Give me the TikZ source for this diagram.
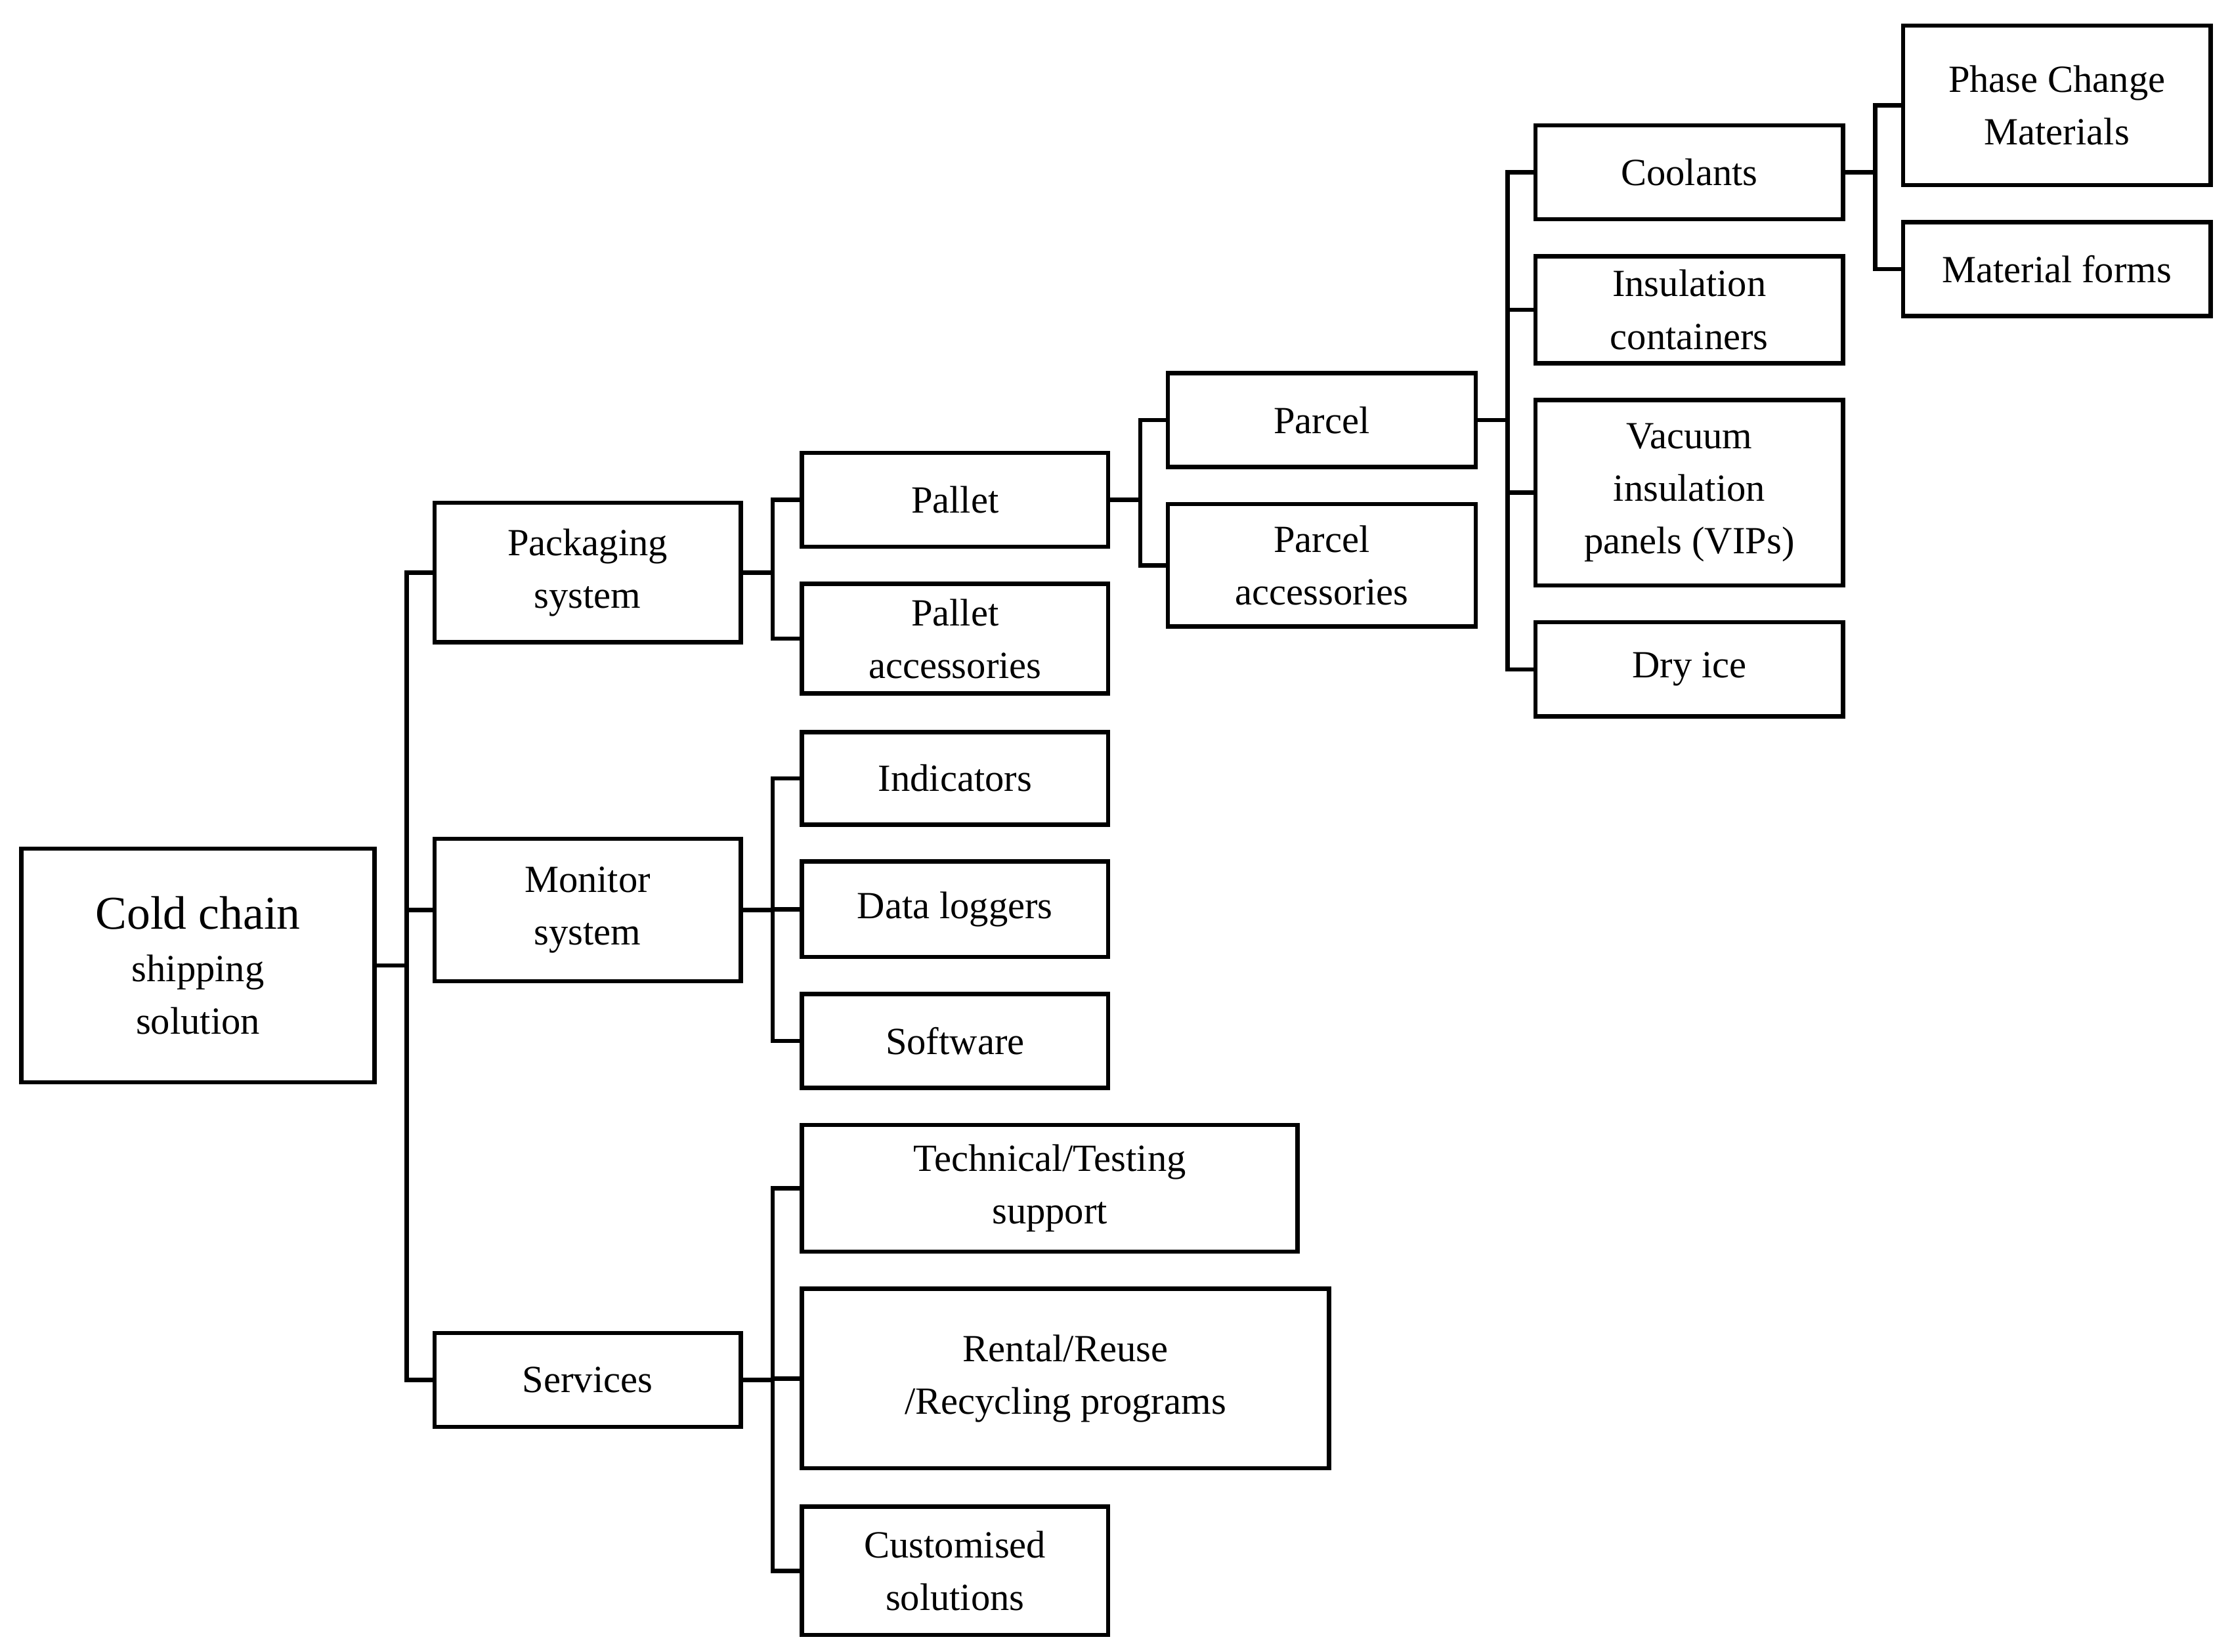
\documentclass[tikz,border=0pt]{standalone}
\usepackage{fontspec}
\setmainfont{Liberation Serif}
\begin{document}
\begin{tikzpicture}[x=1pt,y=-1pt,line width=3pt,
  bx/.style={draw,align=center,inner sep=0pt,font=\fontsize{27}{37}\selectfont}]
\useasboundingbox (0,0) rectangle (1567,1160);
\newcommand{\bx}[6]{\node[bx,minimum width={#4-#2},minimum height={#5-#3}] (#1) at ({(#2+#4)/2},{(#3+#5)/2}) {#6};}
\bx{root}{15}{596}{263}{760}{\fontsize{33}{42}\selectfont Cold chain\\ shipping\\ solution}
\bx{pack}{305}{353}{520}{451}{Packaging\\ system}
\bx{mon}{305}{589}{520}{689}{Monitor\\ system}
\bx{serv}{305}{936}{520}{1002}{Services}
\bx{pal}{563}{318}{778}{384}{Pallet}
\bx{palacc}{563}{410}{778}{487}{Pallet\\ accessories}
\bx{ind}{563}{514}{778}{579}{Indicators}
\bx{data}{563}{605}{778}{672}{Data loggers}
\bx{soft}{563}{698}{778}{764}{Software}
\bx{tech}{563}{790}{911}{879}{Technical/Testing\\ support}
\bx{rent}{563}{905}{933}{1031}{\fontsize{27}{52}\selectfont Rental/Reuse\\ /Recycling programs}
\bx{cust}{563}{1058}{778}{1148}{Customised\\ solutions}
\bx{parc}{820}{262}{1036}{328}{Parcel}
\bx{parcacc}{820}{354}{1036}{440}{Parcel\\ accessories}
\bx{cool}{1078}{88}{1294}{154}{Coolants}
\bx{ins}{1078}{180}{1294}{255}{Insulation\\ containers}
\bx{vac}{1078}{281}{1294}{411}{Vacuum\\ insulation\\ panels (VIPs)}
\bx{dry}{1078}{437}{1294}{503}{Dry ice}
\bx{pcm}{1336}{18}{1552}{130}{Phase Change\\ Materials}
\bx{mat}{1336}{156}{1552}{222}{Material forms}
\foreach \p/\c in {root/pack,root/mon,root/serv,pack/pal,pack/palacc,mon/ind,mon/data,mon/soft,serv/tech,serv/rent,serv/cust,pal/parc,pal/parcacc,parc/cool,parc/ins,parc/vac,parc/dry,cool/pcm,cool/mat}
  \draw (\p.east) -- ++(21,0) |- (\c.west);
\end{tikzpicture}
\end{document}
